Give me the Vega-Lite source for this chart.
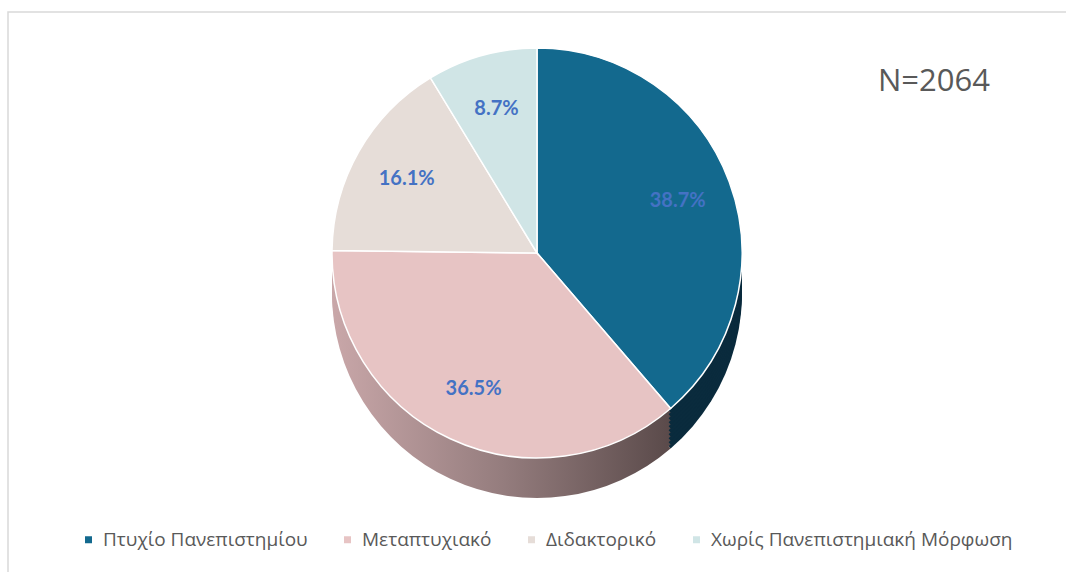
{
  "$schema": "https://vega.github.io/schema/vega-lite/v6.json",
  "width": 1062,
  "height": 566,
  "autosize": {"type": "none"},
  "padding": {"left": 8, "top": 12, "right": 0, "bottom": 0},
  "background": "white",
  "view": {"stroke": "#D9D9D9", "strokeWidth": 1.5},
  "config": {
    "view": {"stroke": "#D9D9D9", "strokeWidth": 1.5},
    "font": "Open Sans"
  },
  "title": {
    "text": "N=2064",
    "anchor": "end",
    "frame": "group",
    "orient": "top",
    "offset": -110,
    "dx": -80,
    "baseline": "alphabetic",
    "font": "Open Sans",
    "fontSize": 31,
    "fontWeight": "normal",
    "color": "#595959"
  },
  "data": {
    "values": [
      {"level": "Πτυχίο Πανεπιστημίου", "share": 0.387, "rank": 1},
      {"level": "Μεταπτυχιακό", "share": 0.365, "rank": 2},
      {"level": "Διδακτορικό", "share": 0.161, "rank": 3},
      {"level": "Χωρίς Πανεπιστημιακή Μόρφωση", "share": 0.087, "rank": 4}
    ]
  },
  "encoding": {
    "theta": {"field": "share", "type": "quantitative", "stack": true},
    "order": {"field": "rank", "type": "quantitative"}
  },
  "layer": [
    {"mark": {"type": "arc", "outerRadius": 205, "xOffset": -2, "yOffset": -2}, "encoding": {"detail": {"field": "level"}, "fill": {"condition": {"test": "datum.level === 'Πτυχίο Πανεπιστημίου'", "value": "#0A2B3D"}, "value": {"gradient": "linear", "x1": 0, "y1": 0, "x2": 1, "y2": 0, "stops": [{"offset": 0, "color": "#C9A7A9"}, {"offset": 0.5, "color": "#957D7E"}, {"offset": 1, "color": "#5A4A4A"}]}}}},
    {"mark": {"type": "arc", "outerRadius": 205, "xOffset": -2, "yOffset": -6}, "encoding": {"detail": {"field": "level"}, "fill": {"condition": {"test": "datum.level === 'Πτυχίο Πανεπιστημίου'", "value": "#0A2B3D"}, "value": {"gradient": "linear", "x1": 0, "y1": 0, "x2": 1, "y2": 0, "stops": [{"offset": 0, "color": "#C9A7A9"}, {"offset": 0.5, "color": "#957D7E"}, {"offset": 1, "color": "#5A4A4A"}]}}}},
    {"mark": {"type": "arc", "outerRadius": 205, "xOffset": -2, "yOffset": -10}, "encoding": {"detail": {"field": "level"}, "fill": {"condition": {"test": "datum.level === 'Πτυχίο Πανεπιστημίου'", "value": "#0A2B3D"}, "value": {"gradient": "linear", "x1": 0, "y1": 0, "x2": 1, "y2": 0, "stops": [{"offset": 0, "color": "#C9A7A9"}, {"offset": 0.5, "color": "#957D7E"}, {"offset": 1, "color": "#5A4A4A"}]}}}},
    {"mark": {"type": "arc", "outerRadius": 205, "xOffset": -2, "yOffset": -14}, "encoding": {"detail": {"field": "level"}, "fill": {"condition": {"test": "datum.level === 'Πτυχίο Πανεπιστημίου'", "value": "#0A2B3D"}, "value": {"gradient": "linear", "x1": 0, "y1": 0, "x2": 1, "y2": 0, "stops": [{"offset": 0, "color": "#C9A7A9"}, {"offset": 0.5, "color": "#957D7E"}, {"offset": 1, "color": "#5A4A4A"}]}}}},
    {"mark": {"type": "arc", "outerRadius": 205, "xOffset": -2, "yOffset": -18}, "encoding": {"detail": {"field": "level"}, "fill": {"condition": {"test": "datum.level === 'Πτυχίο Πανεπιστημίου'", "value": "#0A2B3D"}, "value": {"gradient": "linear", "x1": 0, "y1": 0, "x2": 1, "y2": 0, "stops": [{"offset": 0, "color": "#C9A7A9"}, {"offset": 0.5, "color": "#957D7E"}, {"offset": 1, "color": "#5A4A4A"}]}}}},
    {"mark": {"type": "arc", "outerRadius": 205, "xOffset": -2, "yOffset": -22}, "encoding": {"detail": {"field": "level"}, "fill": {"condition": {"test": "datum.level === 'Πτυχίο Πανεπιστημίου'", "value": "#0A2B3D"}, "value": {"gradient": "linear", "x1": 0, "y1": 0, "x2": 1, "y2": 0, "stops": [{"offset": 0, "color": "#C9A7A9"}, {"offset": 0.5, "color": "#957D7E"}, {"offset": 1, "color": "#5A4A4A"}]}}}},
    {"mark": {"type": "arc", "outerRadius": 205, "xOffset": -2, "yOffset": -26}, "encoding": {"detail": {"field": "level"}, "fill": {"condition": {"test": "datum.level === 'Πτυχίο Πανεπιστημίου'", "value": "#0A2B3D"}, "value": {"gradient": "linear", "x1": 0, "y1": 0, "x2": 1, "y2": 0, "stops": [{"offset": 0, "color": "#C9A7A9"}, {"offset": 0.5, "color": "#957D7E"}, {"offset": 1, "color": "#5A4A4A"}]}}}},
    {"mark": {"type": "arc", "outerRadius": 205, "xOffset": -2, "yOffset": -30}, "encoding": {"detail": {"field": "level"}, "fill": {"condition": {"test": "datum.level === 'Πτυχίο Πανεπιστημίου'", "value": "#0A2B3D"}, "value": {"gradient": "linear", "x1": 0, "y1": 0, "x2": 1, "y2": 0, "stops": [{"offset": 0, "color": "#C9A7A9"}, {"offset": 0.5, "color": "#957D7E"}, {"offset": 1, "color": "#5A4A4A"}]}}}},
    {"mark": {"type": "arc", "outerRadius": 205, "xOffset": -2, "yOffset": -34}, "encoding": {"detail": {"field": "level"}, "fill": {"condition": {"test": "datum.level === 'Πτυχίο Πανεπιστημίου'", "value": "#0A2B3D"}, "value": {"gradient": "linear", "x1": 0, "y1": 0, "x2": 1, "y2": 0, "stops": [{"offset": 0, "color": "#C9A7A9"}, {"offset": 0.5, "color": "#957D7E"}, {"offset": 1, "color": "#5A4A4A"}]}}}},
    {"mark": {"type": "arc", "outerRadius": 205, "xOffset": -2, "yOffset": -38}, "encoding": {"detail": {"field": "level"}, "fill": {"condition": {"test": "datum.level === 'Πτυχίο Πανεπιστημίου'", "value": "#0A2B3D"}, "value": {"gradient": "linear", "x1": 0, "y1": 0, "x2": 1, "y2": 0, "stops": [{"offset": 0, "color": "#C9A7A9"}, {"offset": 0.5, "color": "#957D7E"}, {"offset": 1, "color": "#5A4A4A"}]}}}},
    {
      "mark": {"type": "arc", "outerRadius": 205, "xOffset": -2, "yOffset": -42, "stroke": "white", "strokeWidth": 1.5},
      "encoding": {
        "color": {
          "field": "level",
          "type": "nominal",
          "sort": ["Πτυχίο Πανεπιστημίου", "Μεταπτυχιακό", "Διδακτορικό", "Χωρίς Πανεπιστημιακή Μόρφωση"],
          "scale": {
            "domain": ["Πτυχίο Πανεπιστημίου", "Μεταπτυχιακό", "Διδακτορικό", "Χωρίς Πανεπιστημιακή Μόρφωση"],
            "range": ["#13698E", "#E7C4C4", "#E6DDD8", "#D0E5E6"]
          },
          "legend": {
            "title": null,
            "orient": "none",
            "legendX": 71,
            "legendY": 518,
            "direction": "horizontal",
            "columns": 4,
            "columnPadding": 30,
            "symbolType": "square",
            "symbolSize": 49,
            "symbolStrokeWidth": 0,
            "labelFont": "Open Sans",
            "labelFontSize": 19,
            "labelColor": "#595959",
            "labelOffset": 5,
            "labelLimit": 0
          }
        }
      }
    },
    {
      "mark": {"type": "text", "radius": 150, "xOffset": -2, "yOffset": -42, "font": "Lato", "fontWeight": "bold", "fontSize": 20, "color": "#4472C4"},
      "encoding": {
        "detail": {"field": "level"},
        "text": {"field": "share", "type": "quantitative", "format": ".1%"}
      }
    }
  ]
}
